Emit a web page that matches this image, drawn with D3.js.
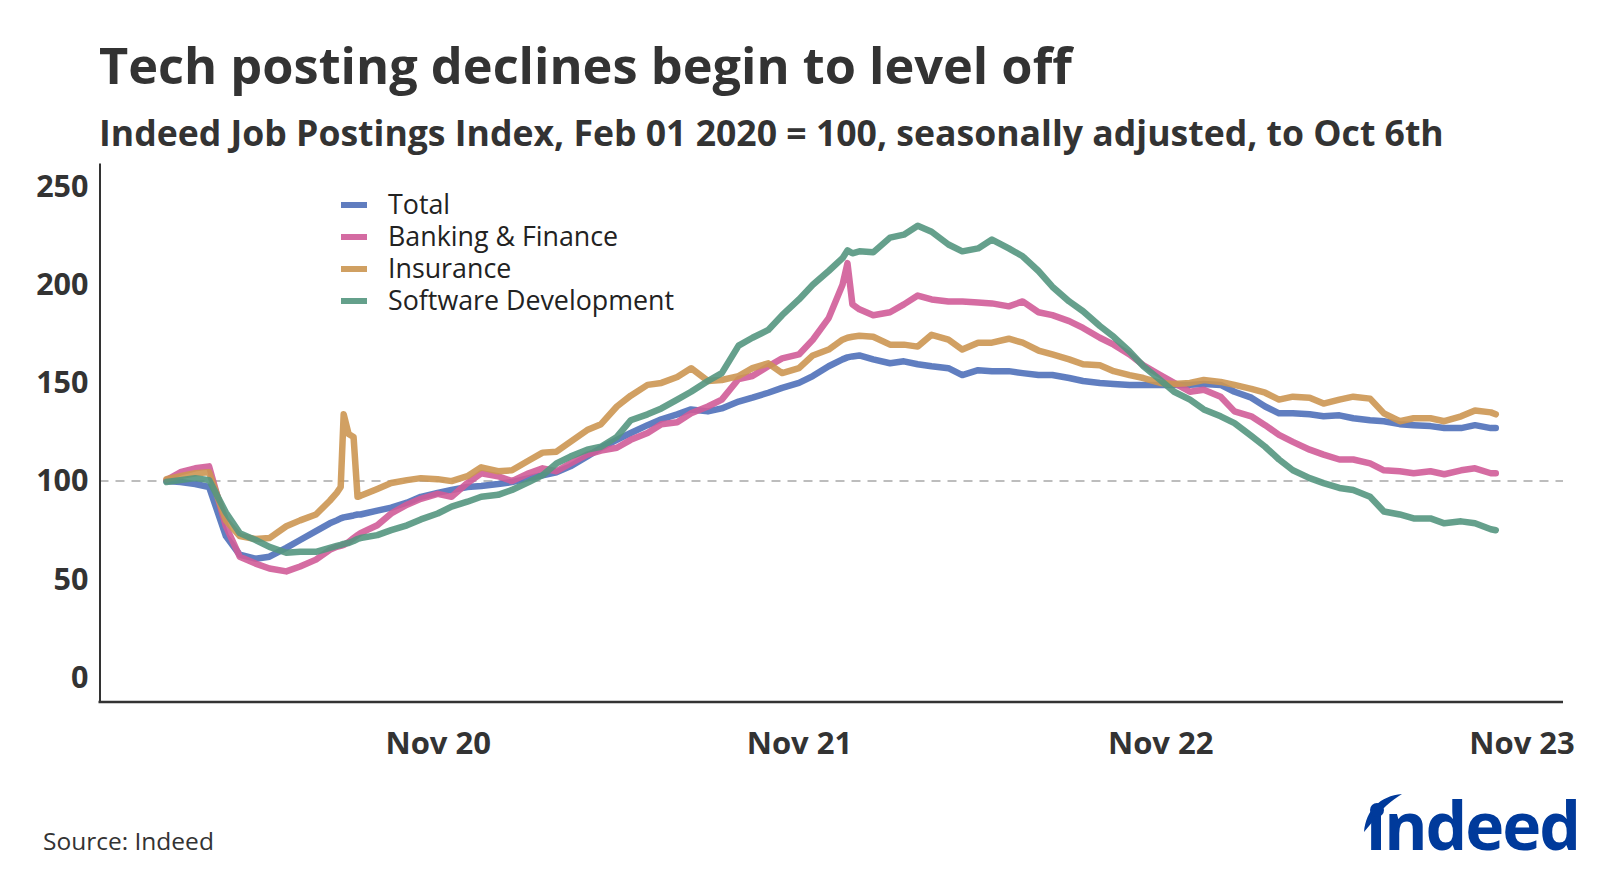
<!DOCTYPE html>
<html>
<head>
<meta charset="utf-8">
<script src="https://cdn.jsdelivr.net/npm/d3@7"></script>
<style>
  body { margin: 0; background: #fff; }
  svg { display: block; font-family: "Open Sans", "Noto Sans", sans-serif; }
</style>
</head>
<body>
<div id="chart"></div>
<script>
// Data (index, Feb 01 2020 = 100)
const dates = [
  "2020-02-01","2020-02-15","2020-03-01","2020-03-15","2020-04-01","2020-04-15","2020-05-01","2020-05-15",
  "2020-06-01","2020-06-15","2020-07-01","2020-07-15","2020-07-22","2020-07-26","2020-07-29","2020-08-03",
  "2020-08-08","2020-08-12","2020-08-15","2020-09-01","2020-09-15","2020-10-01","2020-10-15","2020-11-01",
  "2020-11-15","2020-12-01","2020-12-15","2021-01-01","2021-01-15","2021-02-01","2021-02-15","2021-03-01",
  "2021-03-15","2021-04-01","2021-04-15","2021-05-01","2021-05-15","2021-06-01","2021-06-15","2021-07-01",
  "2021-07-15","2021-08-01","2021-08-15","2021-09-01","2021-09-15","2021-10-01","2021-10-15","2021-11-01",
  "2021-11-15","2021-12-01","2021-12-15","2021-12-20","2021-12-25","2022-01-01","2022-01-15","2022-02-01",
  "2022-02-15","2022-03-01","2022-03-15","2022-04-01","2022-04-15","2022-05-01","2022-05-15","2022-06-01",
  "2022-06-15","2022-07-01","2022-07-15","2022-08-01","2022-08-15","2022-09-01","2022-09-15","2022-10-01",
  "2022-10-15","2022-11-01","2022-11-15","2022-12-01","2022-12-15","2023-01-01","2023-01-15","2023-02-01",
  "2023-02-15","2023-03-01","2023-03-15","2023-04-01","2023-04-15","2023-05-01","2023-05-15","2023-06-01",
  "2023-06-15","2023-07-01","2023-07-15","2023-08-01","2023-08-15","2023-09-01","2023-09-15","2023-10-01",
  "2023-10-06"
];

const total = [
  100, 99.5, 98.5, 97, 72, 62.5, 60.5, 61.5, 66, 70, 74.5, 78.5, 80, 81, 81.5, 82,
  82.5, 83, 83, 85, 86.5, 89, 92, 94, 95.5, 97, 97.5, 98.5, 99.5, 101.5, 103, 104.5,
  107.5, 112.5, 117, 121, 124.5, 128.5, 131.5, 134, 136.5, 135.5, 137, 140.5, 142.5, 145, 147.5, 150,
  153.5, 158.5, 162, 163, 163.5, 164, 162, 160, 161, 159.5, 158.5, 157.5, 154, 156.5, 156, 156,
  155, 154, 154, 152.5, 151, 150, 149.5, 149, 149, 149, 149, 149, 149.5, 149, 145.5, 142.5,
  138, 134.5, 134.5, 134, 133, 133.5, 132, 131, 130.5, 129, 128.5, 128, 127, 127, 128.5, 127,
  127
];

const banking = [
  100.5, 104.5, 106.5, 107.5, 77, 61.5, 58, 55.5, 54, 56.5, 60, 65, 66.5, 67, 67.5, 69,
  71, 72.5, 73.5, 77.5, 83.5, 88, 91, 93.5, 92, 99, 104, 102.5, 100, 104, 106.5, 105,
  109, 113.5, 115.5, 117, 121, 124.5, 129, 130, 134.5, 138, 141.5, 152, 153.5, 158.5, 162.5, 164.5,
  172, 183, 200, 211, 190, 187.5, 184.5, 186, 190, 194.5, 192.5, 191.5, 191.5, 191, 190.5, 189,
  191.5, 186, 184.5, 181.5, 178, 173, 169.5, 164.5, 159, 154, 150, 145.5, 146.5, 143, 135.5, 133,
  128.5, 123.5, 120, 116, 113.5, 111, 111, 109, 105.5, 105, 104, 105, 103.5, 105.5, 106.5, 104,
  104
];

const insurance = [
  101, 102.5, 104, 104.5, 80, 72, 70.5, 71, 77, 80, 83, 90, 94, 97, 134, 124,
  122.5, 92, 92.5, 96, 99, 100.5, 101.5, 101, 100, 102.5, 107, 105, 105.5, 110.5, 114.5, 115,
  120, 126, 129, 138, 143.5, 149, 150, 153, 157.5, 151, 151.5, 153.5, 157.5, 160, 155, 157.5,
  164, 167, 172, 173, 173.5, 174, 173.5, 169.5, 169.5, 168.5, 174.5, 172, 167, 170.5, 170.5, 172.5,
  170.5, 166.5, 164.5, 162, 159.5, 159, 156, 154, 152.5, 150, 149.5, 150, 151.5, 150.5, 149, 147,
  145, 141.5, 143, 142.5, 139.5, 141.5, 143, 142, 134.5, 130.5, 132, 132, 130.5, 133, 136, 135,
  134
];

const software = [
  99.5, 100.5, 101.5, 100.5, 84, 73.5, 70, 66.5, 63.5, 64, 64, 66, 67, 67.5, 68, 68.5,
  69.5, 70.5, 71, 72.5, 75, 77.5, 80.5, 83.5, 87, 89.5, 92, 93, 95.5, 99.5, 103, 109,
  112.5, 116, 117.5, 122.5, 131, 134, 137, 141.5, 145.5, 151, 155, 169, 173, 177, 184.5, 192.5,
  200, 207, 213.5, 217.5, 216, 217, 216.5, 224, 225.5, 230, 227, 220.5, 217, 218.5, 223, 218.5,
  214.5, 207, 199, 191.5, 186.5, 179, 173.5, 166, 158.5, 151.5, 145.5, 141.5, 136.5, 133, 129.5, 123,
  117.5, 111, 105.5, 101.5, 99, 96.5, 95.5, 92, 84.5, 83, 81, 81, 78.5, 79.5, 78.5, 75.5,
  75
];

const seriesNames = ["Total", "Banking & Finance", "Insurance", "Software Development"];
const seriesColors = ["#4f70b9", "#d05c98", "#cc9652", "#54967f"];
const yTicks = [0, 50, 100, 150, 200, 250];
const xTicks = ["2020-11-01", "2021-11-01", "2022-11-01", "2023-11-01"];

const titleText = "Tech posting declines begin to level off";
const subtitleText = "Indeed Job Postings Index, Feb 01 2020 = 100, seasonally adjusted, to Oct 6th";
const sourceText = "Source: Indeed";

// ---- chart ----
const width = 1600, height = 873;
const plot = { left: 99.5, right: 1563, top: 163, bottom: 702 };
const parse = d3.utcParse("%Y-%m-%d");

const svg = d3.select("#chart").append("svg")
  .attr("width", width)
  .attr("height", height);

const xScale = d3.scaleUtc()
  .domain([parse("2020-02-01"), parse("2023-11-01")])
  .range([166.5, 1521.5]);

const yScale = d3.scaleLinear()
  .domain([-12.5, 262])
  .range([plot.bottom, plot.top]);

// Titles
svg.append("text")
  .attr("x", 99).attr("y", 84)
  .attr("font-size", 50.5).attr("font-weight", 700)
  .attr("fill", "#333")
  .text(titleText);

svg.append("text")
  .attr("x", 99).attr("y", 146)
  .attr("font-size", 35.6).attr("font-weight", 700)
  .attr("fill", "#333")
  .text(subtitleText);

// Reference line at 100
svg.append("line")
  .attr("x1", plot.left).attr("x2", plot.right)
  .attr("y1", yScale(100)).attr("y2", yScale(100))
  .attr("stroke", "#bdbdbd")
  .attr("stroke-width", 2)
  .attr("stroke-dasharray", "9,7");

// Axes
let yAxis = d3.axisLeft(yScale)
  .tickValues(yTicks)
  .tickSize(0)
  .tickSizeOuter(0)
  .tickPadding(11);

let gy = svg.append("g")
  .attr("transform", `translate(${plot.left}, 0)`)
  .call(yAxis);
gy.select(".domain").attr("stroke", "#333").attr("stroke-width", 2);
gy.selectAll(".tick text")
  .attr("font-size", 30.5).attr("font-weight", 700)
  .attr("fill", "#333")
  .attr("font-family", "Open Sans, Noto Sans, sans-serif");

let xAxis = d3.axisBottom(xScale)
  .tickValues(xTicks.map(parse))
  .tickFormat(d3.utcFormat("%b %y"))
  .tickSize(0)
  .tickPadding(30);

let gx = svg.append("g")
  .attr("transform", `translate(0, ${plot.bottom})`)
  .call(xAxis);
gx.select(".domain").remove();
gx.selectAll(".tick text")
  .attr("font-size", 31).attr("font-weight", 700)
  .attr("fill", "#333")
  .attr("font-family", "Open Sans, Noto Sans, sans-serif");

svg.append("line")
  .attr("x1", plot.left - 1).attr("x2", plot.right)
  .attr("y1", plot.bottom).attr("y2", plot.bottom)
  .attr("stroke", "#333")
  .attr("stroke-width", 2.5);

// Lines
const allSeries = [total, banking, insurance, software];
const line = d3.line()
  .x((d, i) => xScale(parse(dates[i])))
  .y(d => yScale(d));

svg.selectAll(".series")
  .data(allSeries)
  .enter().append("path")
  .attr("class", "series")
  .attr("d", d => line(d))
  .attr("fill", "none")
  .attr("stroke", (d, i) => seriesColors[i])
  .attr("stroke-width", 6.5)
  .attr("stroke-linejoin", "round")
  .attr("stroke-linecap", "round")
  .attr("opacity", 0.9);

// Legend
const legend = svg.append("g").attr("transform", "translate(341, 205)");
seriesNames.forEach((name, i) => {
  let row = legend.append("g").attr("transform", `translate(0, ${i * 32})`);
  row.append("line")
    .attr("x1", 0).attr("x2", 26)
    .attr("stroke", seriesColors[i])
    .attr("stroke-width", 6)
    .attr("opacity", 0.9);
  row.append("text")
    .attr("x", 47).attr("y", 0)
    .attr("dy", "0.35em")
    .attr("font-size", 26.8)
    .attr("fill", "#222")
    .text(name);
});

// Source
svg.append("text")
  .attr("x", 43).attr("y", 850)
  .attr("font-size", 24.5)
  .attr("fill", "#333")
  .text(sourceText);

// Indeed wordmark
const logo = svg.append("g").attr("transform", "translate(1366, 850)");
logo.append("text")
  .attr("x", 0).attr("y", 0)
  .attr("font-size", 66).attr("font-weight", 700)
  .attr("letter-spacing", -2)
  .attr("fill", "#003a9b")
  .text("ındeed");
logo.append("path")
  .attr("d", "M-2,-18 C0,-40 14,-54 36,-56 C26,-50 14,-40 8,-30 Z")
  .attr("fill", "#003a9b");
logo.append("circle")
  .attr("cx", 11).attr("cy", -40).attr("r", 7)
  .attr("fill", "#003a9b");
</script>
</body>
</html>
